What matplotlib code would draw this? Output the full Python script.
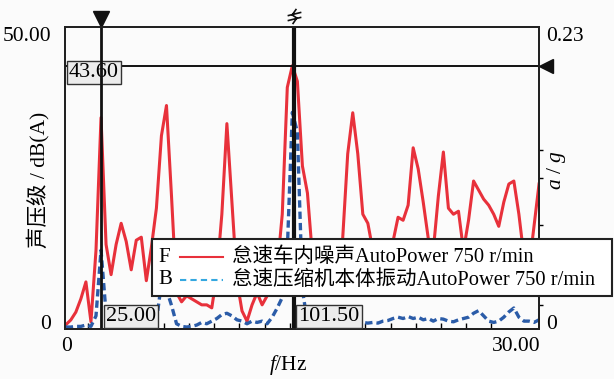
import numpy as np
import matplotlib.pyplot as plt
from matplotlib.path import Path
from matplotlib.patches import Rectangle
from matplotlib.lines import Line2D

plt.rcParams['font.family'] = ['Liberation Serif', 'Noto Sans CJK SC']
plt.rcParams['font.size'] = 15.5
plt.rcParams['mathtext.fontset'] = 'custom'
plt.rcParams['mathtext.rm'] = 'Liberation Serif'
plt.rcParams['mathtext.it'] = 'Liberation Serif:italic'

# spectral lines (Hz)
freq = np.arange(11, 200, 2)

# F: idle interior noise, dB(A)
noise_db = [0.7, 1.5, 2.8, 5.0, 7.8, 1.2, 13.0, 35.0, 14.0, 9.0,
            14.0, 17.5, 14.5, 9.8, 14.7, 15.2, 8.0, 13.5, 20.0, 32.0,
            37.0, 22.0, 6.0, 4.5, 5.5, 5.0, 4.5, 4.0, 4.0, 3.5,
            9.0, 19.0, 34.0, 21.0, 8.0, 3.0, 1.3, 4.0, 6.0, 4.0,
            5.5, 8.0, 10.0, 19.0, 40.0, 43.6, 41.0, 27.0, 22.5, 12.0,
            9.0, 10.0, 8.0, 9.0, 10.0, 15.0, 29.0, 35.8, 29.0, 19.0,
            17.5, 13.0, 10.0, 11.0, 13.0, 14.5, 18.5, 18.0, 20.5, 30.0,
            26.5, 21.0, 15.0, 13.0, 22.0, 29.3, 20.0, 19.0, 19.5, 13.0,
            18.0, 24.5, 23.0, 21.5, 20.5, 19.0, 17.0, 21.0, 24.0, 24.5,
            19.0, 12.0, 10.0, 17.0, 24.0]

# B: idle compressor body vibration, g
vib_g = [0.0015, 0.0015, 0.002, 0.002, 0.003, 0.002, 0.010, 0.060, 0.012, 0.002,
         0.0015, 0.0015, 0.002, 0.0015, 0.002, 0.002, 0.0015, 0.003, 0.006, 0.035,
         0.030, 0.018, 0.004, 0.002, 0.0015, 0.002, 0.003, 0.005, 0.004, 0.006,
         0.008, 0.011, 0.012, 0.010, 0.007, 0.006, 0.004, 0.006, 0.005, 0.006,
         0.004, 0.009, 0.016, 0.024, 0.060, 0.165, 0.150, 0.030, 0.005, 0.003,
         0.0025, 0.0025, 0.003, 0.003, 0.0035, 0.004, 0.0045, 0.005, 0.0055, 0.005,
         0.0045, 0.005, 0.0045, 0.006, 0.0065, 0.008, 0.009, 0.008, 0.0095, 0.008,
         0.009, 0.007, 0.008, 0.006, 0.008, 0.0075, 0.006, 0.0055, 0.007, 0.008,
         0.009, 0.012, 0.014, 0.010, 0.006, 0.005, 0.006, 0.009, 0.013, 0.016,
         0.009, 0.006, 0.006, 0.005, 0.007]

cursor_f = [25.00, 101.50]
cursor_db = 43.60
x_tick_pos = [11.5, 190.0]
x_tick_labels = ['0', '30.00']
legend_labels = ['怠速车内噪声AutoPower 750 r/min', '怠速压缩机本体振动AutoPower 750 r/min']

red = '#e8313b'
blue = '#2b5ca8'
bg = '#fbfbfb'

fig = plt.figure(figsize=(6.14, 3.79), dpi=100, facecolor=bg)
ax = fig.add_axes([0.1059, 0.1319, 0.7720, 0.7969])
ax.set_facecolor(bg)
ax.set_xlim(10.7, 199.0)
ax.set_ylim(0, 50)
ax2 = ax.twinx()
ax2.set_ylim(0, 0.23)

ax.plot(freq, noise_db, color=red, lw=2.2)
ax2.plot(freq, vib_g, color=blue, lw=2.4, ls=(0, (2.2, 1.2)))

for sp in list(ax.spines.values()) + list(ax2.spines.values()):
    sp.set_linewidth(1.4)
    sp.set_color('#222222')

# ticks
ax.set_xticks(x_tick_pos, x_tick_labels)
ax.set_xticks(np.arange(20, 200, 10), minor=True)
ax.tick_params(axis='x', which='major', length=0, pad=6)
ax.tick_params(axis='x', which='minor', direction='in', length=4, width=1)
ax.set_yticks([0, 50], ['0', '50.00'])
ax.tick_params(axis='y', length=0, pad=10)
ylab = ax.get_yticklabels()
ylab[0].set_va('baseline')
ylab[1].set_va('top')

ax2.set_yticks([0, 0.23], ['0', '0.23'])
ax2.set_yticks([0.018, 0.079, 0.115, 0.136], minor=True)
ax2.tick_params(axis='y', which='major', length=0, pad=5)
ax2.tick_params(axis='y', which='minor', direction='out', length=3, width=1)
rlab = ax2.get_yticklabels()
rlab[0].set_va('baseline')
rlab[1].set_va('top')

# cursors
ax.axhline(cursor_db, color='#111111', lw=1.4, zorder=5)
ax.plot([1.015], [cursor_db], marker='<', ms=10, color='#111111',
        transform=ax.get_yaxis_transform(), clip_on=False)
ax2.axvline(cursor_f[0], color='#111111', lw=2.0)
ax2.axvline(cursor_f[1], color='#111111', lw=3.0)
ax2.plot([cursor_f[0]], [1.025], marker='v', ms=11, color='#111111',
         transform=ax2.get_xaxis_transform(), clip_on=False)

verts = [(-0.9, 0.1), (0.9, 0.55), (-0.9, -0.55), (0.9, -0.1),
         (0.25, 1.0), (-0.3, 0.2), (0.3, -0.2), (-0.25, -1.0)]
codes = [Path.MOVETO, Path.LINETO, Path.MOVETO, Path.LINETO,
         Path.MOVETO, Path.LINETO, Path.LINETO, Path.LINETO]
ax2.plot([cursor_f[1]], [1.035], marker=Path(verts, codes), ms=11, mew=1.2,
         color='#111111', fillstyle='none', ls='none',
         transform=ax2.get_xaxis_transform(), clip_on=False)

box = dict(boxstyle='square,pad=0.1', fc='#ececec', ec='#333333', lw=1)
ax.annotate(f'{cursor_db:.2f}', xy=(0, cursor_db), xycoords=ax.get_yaxis_transform(),
            xytext=(4, -7), textcoords='offset pixels', ha='left', va='center',
            bbox=box, zorder=6, fontsize=16)
for f in cursor_f:
    ax2.annotate(f'{f:.2f}', xy=(f, 0), xycoords=ax2.get_xaxis_transform(),
                 xytext=(5, 3), textcoords='offset pixels', ha='left', va='bottom',
                 bbox=box, zorder=6, fontsize=16)

# axis labels
fig.text(38 / 614, 1 - 180 / 379, '声压级 / dB(A)', rotation=90, ha='center', va='center')
fig.text(557 / 614, 1 - 170 / 379, '$a$ / $g$', rotation=90, ha='center', va='center')
fig.text(288 / 614, 2 / 379, '$f$/Hz', ha='center', va='bottom')

# legend box
fig.add_artist(Rectangle((152 / 614, 1 - 296 / 379), 460 / 614, 57 / 379,
                         transform=fig.transFigure, fc='white', ec='#222222', lw=1.5))
rows = [(257, red, '-', 'F'), (280, '#35a8e0', (0, (3, 2)), 'B')]
for (yp, col, ls, key), lab in zip(rows, legend_labels):
    yf = 1 - yp / 379
    fig.text(158 / 614, yf, key, ha='left', va='center', fontsize=15)
    fig.add_artist(Line2D([180 / 614, 223 / 614], [yf, yf], color=col, ls=ls, lw=1.5,
                          transform=fig.transFigure))
    fig.text(232 / 614, yf, lab, ha='left', va='center', fontsize=14.8)

fig.savefig('out.png', dpi=100, facecolor=bg)
